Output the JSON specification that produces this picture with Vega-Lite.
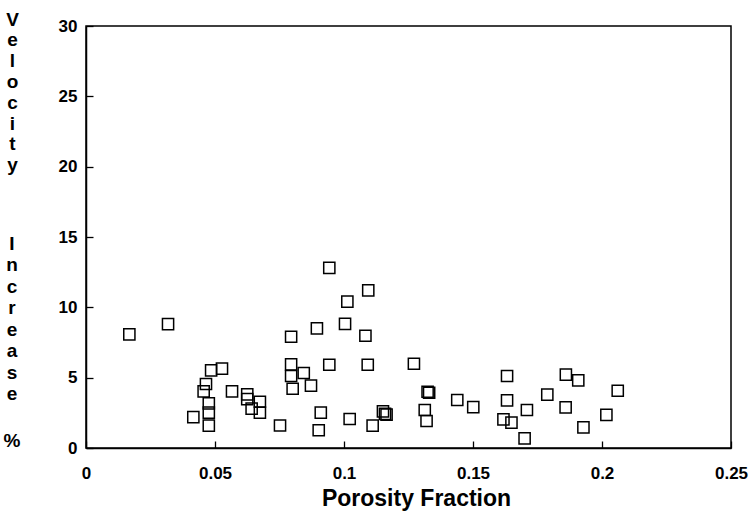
{
  "$schema": "https://vega.github.io/schema/vega-lite/v6.json",
  "width": 645,
  "height": 422,
  "autosize": {"type": "none"},
  "padding": {"left": 86, "top": 26, "right": 22, "bottom": 69},
  "background": "white",
  "config": {
    "view": {"stroke": "black", "strokeWidth": 1.5},
    "font": "Liberation Sans"
  },
  "title": {
    "text": ["I", "n", "c", "r", "e", "a", "s", "e"],
    "subtitle": "%",
    "orient": "top",
    "anchor": "start",
    "frame": "group",
    "align": "center",
    "angle": 0,
    "baseline": "top",
    "dx": -74,
    "dy": 445,
    "font": "Liberation Sans",
    "fontSize": 19,
    "fontWeight": "bold",
    "color": "black",
    "lineHeight": 21.5,
    "subtitleFont": "Liberation Sans",
    "subtitleFontSize": 19,
    "subtitleFontWeight": "bold",
    "subtitleColor": "black",
    "subtitlePadding": 28
  },
  "data": {
    "values": [
      {"porosity": 0.0168, "increase": 8.08},
      {"porosity": 0.0318, "increase": 8.81},
      {"porosity": 0.0485, "increase": 5.52},
      {"porosity": 0.0527, "increase": 5.64},
      {"porosity": 0.0465, "increase": 4.55},
      {"porosity": 0.0456, "increase": 4.03},
      {"porosity": 0.0566, "increase": 4.03},
      {"porosity": 0.0625, "increase": 3.81},
      {"porosity": 0.0625, "increase": 3.48},
      {"porosity": 0.0674, "increase": 3.29},
      {"porosity": 0.0642, "increase": 2.8},
      {"porosity": 0.0674, "increase": 2.51},
      {"porosity": 0.0476, "increase": 3.17},
      {"porosity": 0.0476, "increase": 2.51},
      {"porosity": 0.0416, "increase": 2.2},
      {"porosity": 0.0476, "increase": 1.59},
      {"porosity": 0.0752, "increase": 1.6},
      {"porosity": 0.0943, "increase": 12.81},
      {"porosity": 0.1094, "increase": 11.21},
      {"porosity": 0.1013, "increase": 10.4},
      {"porosity": 0.0895, "increase": 8.51},
      {"porosity": 0.1004, "increase": 8.83},
      {"porosity": 0.0795, "increase": 7.91},
      {"porosity": 0.1083, "increase": 7.98},
      {"porosity": 0.0795, "increase": 5.95},
      {"porosity": 0.0943, "increase": 5.92},
      {"porosity": 0.1092, "increase": 5.92},
      {"porosity": 0.1271, "increase": 5.99},
      {"porosity": 0.0795, "increase": 5.12},
      {"porosity": 0.0844, "increase": 5.33},
      {"porosity": 0.0801, "increase": 4.21},
      {"porosity": 0.0872, "increase": 4.43},
      {"porosity": 0.091, "increase": 2.51},
      {"porosity": 0.0902, "increase": 1.26},
      {"porosity": 0.1022, "increase": 2.06},
      {"porosity": 0.1111, "increase": 1.59},
      {"porosity": 0.1151, "increase": 2.61},
      {"porosity": 0.1165, "increase": 2.37},
      {"porosity": 0.1159, "increase": 2.42},
      {"porosity": 0.1324, "increase": 4.0},
      {"porosity": 0.133, "increase": 3.93},
      {"porosity": 0.1313, "increase": 2.7},
      {"porosity": 0.132, "increase": 1.92},
      {"porosity": 0.1439, "increase": 3.41},
      {"porosity": 0.1501, "increase": 2.91},
      {"porosity": 0.1632, "increase": 5.12},
      {"porosity": 0.1632, "increase": 3.39},
      {"porosity": 0.1618, "increase": 2.04},
      {"porosity": 0.1649, "increase": 1.8},
      {"porosity": 0.1709, "increase": 2.7},
      {"porosity": 0.17, "increase": 0.69},
      {"porosity": 0.1788, "increase": 3.79},
      {"porosity": 0.186, "increase": 5.21},
      {"porosity": 0.1908, "increase": 4.81},
      {"porosity": 0.1859, "increase": 2.89},
      {"porosity": 0.1928, "increase": 1.47},
      {"porosity": 0.2017, "increase": 2.35},
      {"porosity": 0.2061, "increase": 4.07}
    ]
  },
  "mark": {"type": "point", "shape": "square", "size": 125, "filled": false, "stroke": "black", "strokeWidth": 1.5, "opacity": 1},
  "encoding": {
    "x": {
      "field": "porosity",
      "type": "quantitative",
      "scale": {"domain": [0, 0.25], "nice": false, "zero": false},
      "axis": {
        "title": "Porosity Fraction",
        "values": [0, 0.05, 0.1, 0.15, 0.2, 0.25],
        "format": "~g",
        "grid": false,
        "domainColor": "black",
        "domainWidth": 1.5,
        "tickColor": "black",
        "tickSize": -7,
        "tickWidth": 1.3,
        "labelFont": "Liberation Sans",
        "labelFontWeight": "bold",
        "labelFontSize": 17,
        "labelColor": "black",
        "labelPadding": 24,
        "labelFlush": false,
        "titleFont": "Liberation Sans",
        "titleFontWeight": "bold",
        "titleFontSize": 23,
        "titleColor": "black",
        "titleAlign": "center",
        "titleBaseline": "middle",
        "titleX": 330,
        "titleY": 50
      }
    },
    "y": {
      "field": "increase",
      "type": "quantitative",
      "scale": {"domain": [0, 30], "nice": false},
      "axis": {
        "title": ["V", "e", "l", "o", "c", "i", "t", "y"],
        "values": [0, 5, 10, 15, 20, 25, 30],
        "grid": false,
        "domainColor": "black",
        "domainWidth": 1.5,
        "tickColor": "black",
        "tickSize": -7,
        "tickWidth": 1.3,
        "labelFont": "Liberation Sans",
        "labelFontWeight": "bold",
        "labelFontSize": 17,
        "labelColor": "black",
        "labelPadding": 16,
        "labelFlush": false,
        "titleFont": "Liberation Sans",
        "titleFontWeight": "bold",
        "titleFontSize": 19,
        "titleColor": "black",
        "titleAngle": 0,
        "titleAlign": "center",
        "titleBaseline": "top",
        "titleX": -74,
        "titleY": -16,
        "titleLineHeight": 20.8
      }
    }
  }
}
